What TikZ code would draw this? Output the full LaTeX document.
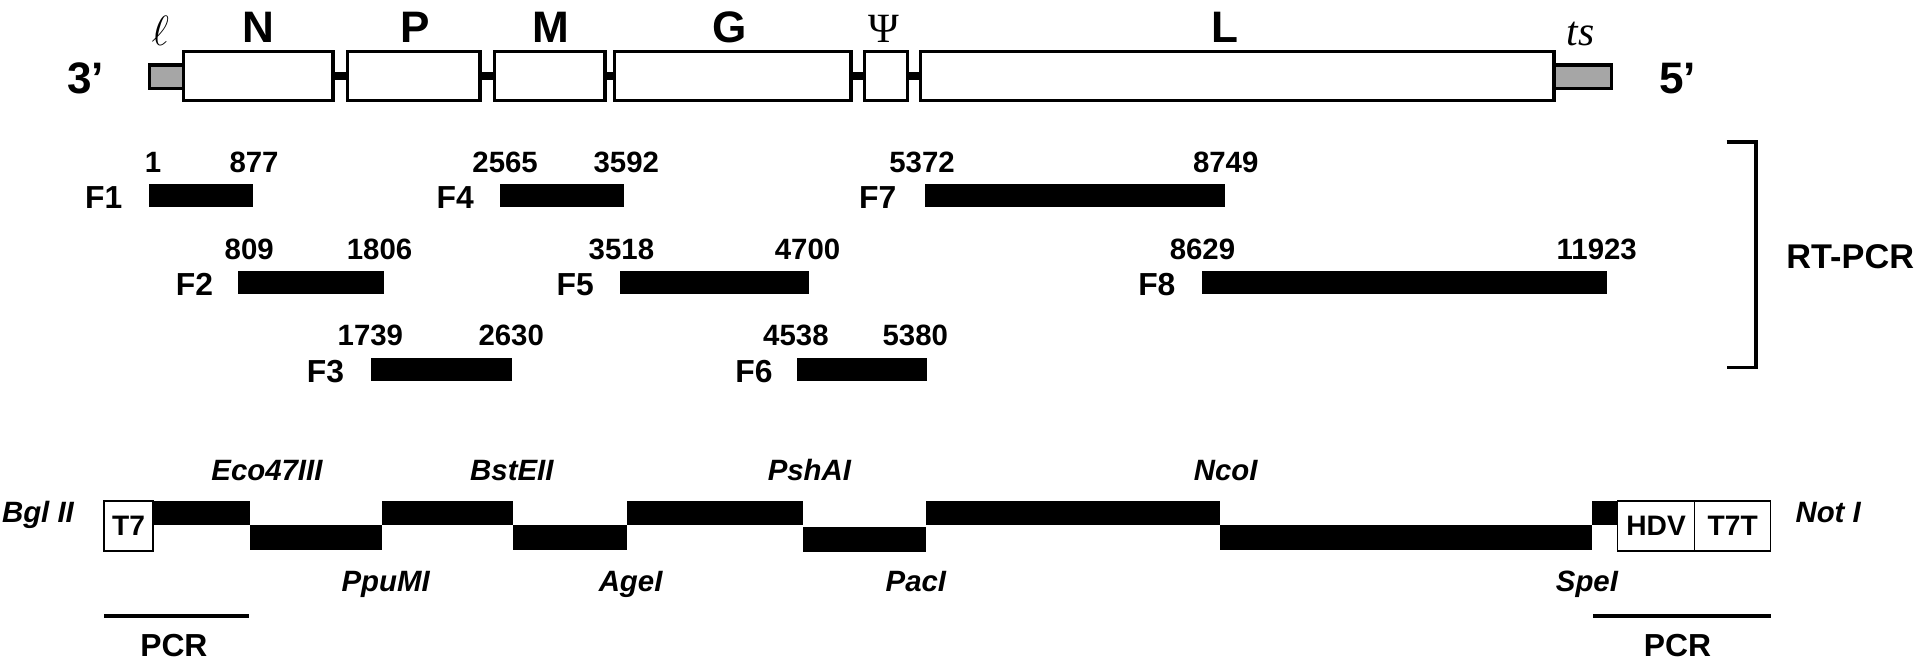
\documentclass[tikz,border=0pt]{standalone}
\usepackage{fontspec}
\setmainfont{Liberation Sans}
\newfontfamily\serifx{Liberation Serif}
\usetikzlibrary{positioning}
\newcommand\mkbox[7]{\node[#1, minimum width={(#4-#3)*0.5pt}, minimum height={(#6-#5)*0.5pt}] (#2) at ({(#3+#4)/2},{(#5+#6)/2}) {#7};}
\tikzset{
  gene/.style={draw, line width=1.35pt, fill=white, inner sep=0pt, outer sep=0pt},
  utr/.style={draw, line width=1.35pt, fill=black!35, inner sep=0pt, outer sep=0pt},
  link/.style={line width=3.4pt},
  genelab/.style={font=\fontsize{18}{20}\selectfont\bfseries, anchor=base},
  endlab/.style={font=\fontsize{18}{20}\selectfont\bfseries, anchor=base},
  serlab/.style={font=\fontsize{17}{19}\selectfont\serifx, anchor=base},
  frag/.style={fill=black, inner sep=0pt, outer sep=0pt},
  num/.style={font=\fontsize{12}{14}\selectfont\bfseries, anchor=base},
  flab/.style={font=\fontsize{13}{15}\selectfont\bfseries, anchor=base east},
  seg/.style={fill=black, inner sep=0pt, outer sep=0pt},
  cass/.style={draw, line width=0.6pt, fill=white, inner sep=0pt, outer sep=0pt, font=\fontsize{11.5}{13}\selectfont\bfseries},
  enz/.style={font=\fontsize{12}{14}\selectfont\bfseries\itshape, anchor=base},
  pcrline/.style={line width=1.35pt},
  pcrlab/.style={font=\fontsize{13}{15}\selectfont\bfseries, anchor=base},
  brack/.style={line width=1.4pt}
}
\begin{document}
\begin{tikzpicture}[x=0.5pt,y=-0.5pt]
\useasboundingbox (0,0) rectangle (1568,540);
% ---- genome map ----
\mkbox{utr}{lead}{122}{150}{53}{72}{}
\mkbox{gene}{N}{150}{272}{42}{82}{}
\mkbox{gene}{P}{284}{392}{42}{82}{}
\mkbox{gene}{M}{404}{494}{42}{82}{}
\mkbox{gene}{G}{502}{695}{42}{82}{}
\mkbox{gene}{Psi}{706}{741}{42}{82}{}
\mkbox{gene}{L}{752}{1269}{42}{82}{}
\mkbox{utr}{trail}{1269}{1316}{53}{72}{}
\draw[link] (N.east) -- (P.west);
\draw[link] (P.east) -- (M.west);
\draw[link] (M.east) -- (G.west);
\draw[link] (G.east) -- (Psi.west);
\draw[link] (Psi.east) -- (L.west);
\node[endlab] (three) at (70,76) {3’};
\node[endlab] (five) at (1370,76) {5’};
\node[anchor=base, font=\fontsize{18}{20}\selectfont] (ell) at (131,37) {$\ell$};
\node[genelab] (tN) at (211,35) {N};
\node[genelab] (tP) at (339,35) {P};
\node[genelab] (tM) at (450,35) {M};
\node[genelab] (tG) at (596,35) {G};
\node[serlab] (tPsi) at (722,35) {Ψ};
\node[genelab] (tL) at (1000,35) {L};
\node[serlab, font=\fontsize{17}{19}\selectfont\serifx\itshape] (tts) at (1291,37) {ts};
% ---- RT-PCR fragments ----
\mkbox{frag}{F1}{122}{207}{150}{169}{}
\mkbox{frag}{F4}{408}{510}{150}{169}{}
\mkbox{frag}{F7}{755}{1000}{150}{169}{}
\mkbox{frag}{F2}{194}{314}{221}{240}{}
\mkbox{frag}{F5}{506}{661}{221}{240}{}
\mkbox{frag}{F8}{982}{1312}{221}{240}{}
\mkbox{frag}{F3}{303}{418}{292}{311}{}
\mkbox{frag}{F6}{651}{757}{292}{311}{}
\node[flab] (lF1) at (107,170) {F1};
\node[flab] (lF4) at (394,170) {F4};
\node[flab] (lF7) at (739,170) {F7};
\node[flab] (lF2) at (181,241) {F2};
\node[flab] (lF5) at (492,241) {F5};
\node[flab] (lF8) at (967,241) {F8};
\node[flab] (lF3) at (288,312) {F3};
\node[flab] (lF6) at (638,312) {F6};
\node[num] (a1) at (125,140.5) {1};
\node[num] (b1) at (207.5,140.5) {877};
\node[num] (a4) at (412.5,140.5) {2565};
\node[num] (b4) at (511.5,140.5) {3592};
\node[num] (a7) at (753,140.5) {5372};
\node[num] (b7) at (1001,140.5) {8749};
\node[num] (a2) at (203.5,212) {809};
\node[num] (b2) at (310,212) {1806};
\node[num] (a5) at (507.5,212) {3518};
\node[num] (b5) at (659.5,212) {4700};
\node[num] (a8) at (982,212) {8629};
\node[num] (b8) at (1304,212) {11923};
\node[num] (a3) at (302.5,282) {1739};
\node[num] (b3) at (417.5,282) {2630};
\node[num] (a6) at (650,282) {4538};
\node[num] (b6) at (747.5,282) {5380};
\coordinate (bt1) at (1410,116);
\coordinate (bt2) at (1434,116);
\coordinate (bb2) at (1434,300);
\coordinate (bb1) at (1410,300);
\draw[brack] (bt1) -- (bt2) -- (bb2) -- (bb1);
\node[font=\fontsize{14}{16}\selectfont\bfseries] (rt) at (1511,210) {RT-PCR};
% ---- cDNA clone ----
\mkbox{cass}{T7}{85}{125}{409}{450}{T7}
\mkbox{seg}{s1}{125}{204}{409}{429}{}
\mkbox{seg}{s2}{204}{312}{429}{449}{}
\mkbox{seg}{s3}{312}{419}{409}{429}{}
\mkbox{seg}{s4}{419}{512}{429}{449}{}
\mkbox{seg}{s5}{512}{656}{409}{429}{}
\mkbox{seg}{s6}{656}{756}{430}{451}{}
\mkbox{seg}{s7}{756}{996}{409}{429}{}
\mkbox{seg}{s8}{996}{1300}{429}{449}{}
\mkbox{seg}{s9}{1300}{1321}{409}{429}{}
\mkbox{cass}{HDV}{1321}{1384}{409}{450}{HDV}
\mkbox{cass}{T7T}{1384}{1446}{409}{450}{T7T}
\node[enz] (bgl) at (31,427) {Bgl II};
\node[enz] (not) at (1493,427) {Not I};
\node[enz] (e1) at (218,392) {Eco47III};
\node[enz] (e3) at (418,392) {BstEII};
\node[enz] (e5) at (661,392) {PshAI};
\node[enz] (e7) at (1001,392) {NcoI};
\node[enz] (e2) at (315,483) {PpuMI};
\node[enz] (e4) at (515,483) {AgeI};
\node[enz] (e6) at (748,483) {PacI};
\node[enz] (e8) at (1296,483) {SpeI};
\coordinate (p1a) at (85,503);
\coordinate (p1b) at (203,503);
\coordinate (p2a) at (1301,503);
\coordinate (p2b) at (1446,503);
\draw[pcrline] (p1a) -- (p1b);
\draw[pcrline] (p2a) -- (p2b);
\node[pcrlab] (pcr1) at (142,536) {PCR};
\node[pcrlab] (pcr2) at (1370,536) {PCR};
\end{tikzpicture}
\end{document}
